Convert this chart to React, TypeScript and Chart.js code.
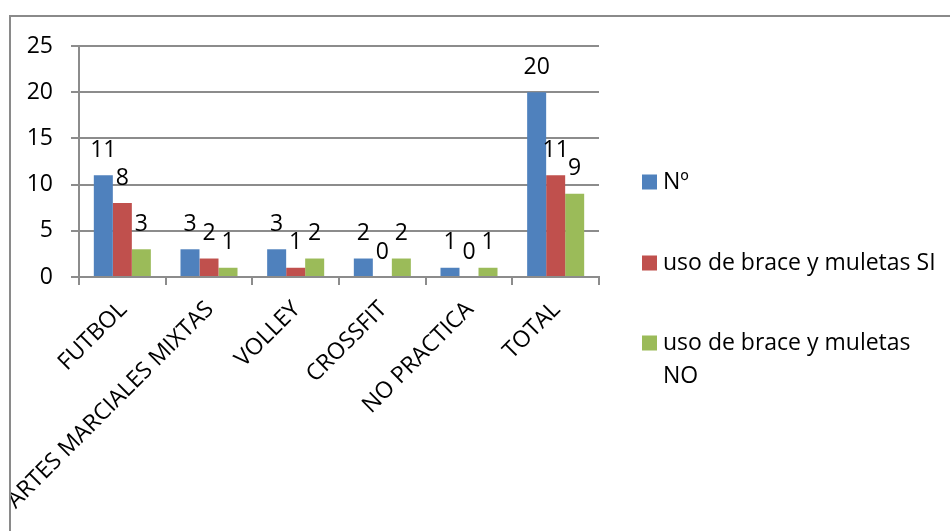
import React, { useEffect, useRef } from "react";
import { Chart, registerables } from "chart.js";

Chart.register(...registerables);

const categories = ["FUTBOL", "ARTES MARCIALES MIXTAS", "VOLLEY", "CROSSFIT", "NO PRACTICA", "TOTAL"];
const seriesNames = ["Nº", "uso de brace y muletas SI", "uso de brace y muletas NO"];
const legendLines = [["Nº"], ["uso de brace y muletas SI"], ["uso de brace y muletas", "NO"]];
const countValues = [11, 3, 3, 2, 1, 20];
const siValues = [8, 2, 1, 0, 0, 11];
const noValues = [3, 1, 2, 2, 1, 9];
const yMin = 0;
const yMax = 25;
const yStep = 5;

const COLORS = ["#4F81BD", "#C0504D", "#9BBB59"];
const GRID = "#8c8c8c";
const FONT = "'Open Sans', Lato, sans-serif";

const dataLabelPlugin = {
  id: "dataLabels",
  afterDatasetsDraw(chart: any) {
    const ctx = chart.ctx;
    ctx.save();
    ctx.font = `23px ${FONT}`;
    ctx.fillStyle = "#000";
    ctx.textAlign = "center";
    ctx.textBaseline = "middle";
    chart.data.datasets.forEach((ds: any, i: number) => {
      const meta = chart.getDatasetMeta(i);
      meta.data.forEach((bar: any, j: number) => {
        ctx.fillText(String(ds.data[j]), bar.x, bar.y - 25);
      });
    });
    ctx.restore();
  },
};

const frameLegendPlugin = {
  id: "frameLegend",
  afterDraw(chart: any) {
    const ctx = chart.ctx;
    const area = chart.chartArea;
    ctx.save();
    ctx.fillStyle = "#fff";
    ctx.fillRect(0, 0, 10, chart.height);
    ctx.strokeStyle = "#8a8a8a";
    ctx.lineWidth = 2;
    ctx.beginPath();
    ctx.moveTo(10, chart.height);
    ctx.lineTo(10, 16);
    ctx.lineTo(chart.width, 16);
    ctx.stroke();
    const boxX = area.right + 43;
    const textX = boxX + 21;
    const ys = [182, 263, 343];
    ctx.font = `23px ${FONT}`;
    ctx.textAlign = "left";
    ctx.textBaseline = "middle";
    legendLines.forEach((lines, i) => {
      ctx.fillStyle = COLORS[i];
      ctx.fillRect(boxX, ys[i] - 7.5, 15, 15);
      ctx.fillStyle = "#000";
      lines.forEach((ln, k) => {
        ctx.fillText(ln, textX, ys[i] + k * 33);
      });
    });
    ctx.restore();
  },
};

export default function App() {
  const ref = useRef<HTMLCanvasElement | null>(null);
  useEffect(() => {
    if (!ref.current) return;
    const chart = new Chart(ref.current, {
      type: "bar",
      data: {
        labels: categories,
        datasets: [countValues, siValues, noValues].map((d, i) => ({
          label: seriesNames[i],
          data: d,
          backgroundColor: COLORS[i],
          borderWidth: 0,
          categoryPercentage: 0.658,
          barPercentage: 1,
        })),
      },
      options: {
        responsive: false,
        animation: false,
        layout: { padding: { left: 0, top: 46, right: 351, bottom: 0 } },
        plugins: { legend: { display: false }, tooltip: { enabled: false } },
        scales: {
          x: {
            grid: {
              display: true,
              drawOnChartArea: false,
              drawTicks: true,
              tickLength: 8,
              color: GRID,
              lineWidth: 2,
              offset: true,
            },
            border: { display: true, color: GRID, width: 2 },
            ticks: {
              font: { family: FONT, size: 23 },
              color: "#000",
              minRotation: 45,
              maxRotation: 45,
              padding: 11,
              autoSkip: false,
              labelOffset: 1,
            },
            afterFit: (s: any) => {
              s.height = 254;
            },
          },
          y: {
            min: yMin,
            max: yMax,
            ticks: {
              stepSize: yStep,
              padding: 18,
              font: { family: FONT, size: 23 },
              color: "#000",
            },
            grid: { color: GRID, lineWidth: 2, tickLength: 8 },
            border: { display: true, color: GRID, width: 2 },
            afterFit: (s: any) => {
              s.width = 79;
            },
          },
        },
      },
      plugins: [dataLabelPlugin, frameLegendPlugin],
    });
    return () => chart.destroy();
  }, []);
  return (
    <div style={{ position: "absolute", left: 0, top: 0, width: 950, height: 531, background: "#fff" }}>
      <canvas ref={ref} width={950} height={531} style={{ display: "block" }} />
    </div>
  );
}
